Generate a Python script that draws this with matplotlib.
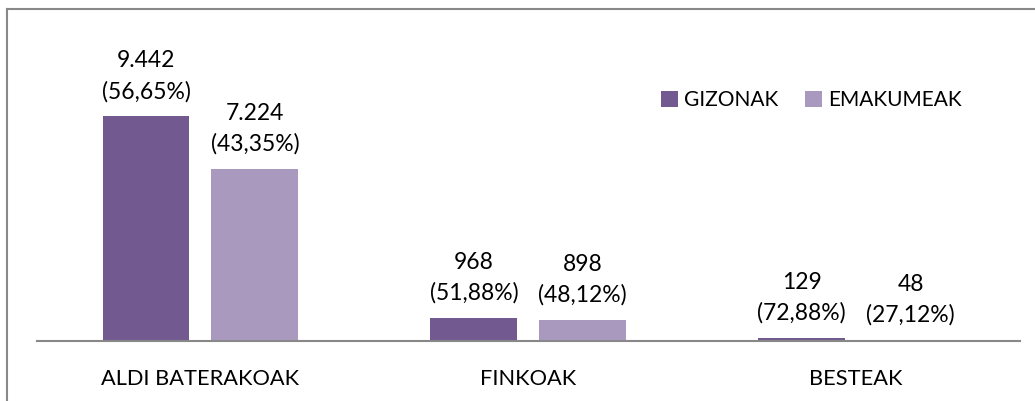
import matplotlib
matplotlib.use("Agg")
import matplotlib.pyplot as plt
from matplotlib.lines import Line2D
import numpy as np

plt.rcParams['font.family'] = ['Lato', 'DejaVu Sans']

categories = ['ALDI BATERAKOAK', 'FINKOAK', 'BESTEAK']
series_names = ['GIZONAK', 'EMAKUMEAK']
gizonak = [9442, 968, 129]
emakumeak = [7224, 898, 48]
gizonak_labels = ['9.442\n(56,65%)', '968\n(51,88%)', '129\n(72,88%)']
emakumeak_labels = ['7.224\n(43,35%)', '898\n(48,12%)', '48\n(27,12%)']

c_dark = '#72598F'
c_light = '#AA99BF'

fig = plt.figure(figsize=(10.35, 4.01), dpi=100)
ax = fig.add_axes([36.5 / 1035, 60 / 401, 983.5 / 1035, 321 / 401])

x = np.arange(len(categories))
w = 0.265
off = 0.166
b1 = ax.bar(x - off, gizonak, w, color=c_dark, label=series_names[0])
b2 = ax.bar(x + off, emakumeak, w, color=c_light, label=series_names[1])

for bars, labels in ((b1, gizonak_labels), (b2, emakumeak_labels)):
    for rect, lab in zip(bars, labels):
        ax.annotate(lab, (rect.get_x() + rect.get_width() / 2, rect.get_height()),
                    xytext=(0, 10), textcoords='offset points',
                    ha='center', va='bottom', fontsize=16.5, linespacing=1.55)

ax.set_xlim(-0.5, 2.5)
ax.set_ylim(0, 13470)
ax.set_yticks([])
ax.set_xticks(x)
ax.set_xticklabels(categories, fontsize=15.7)
ax.tick_params(axis='x', length=0, pad=20)
for s in ('top', 'right', 'left'):
    ax.spines[s].set_visible(False)
ax.spines['bottom'].set_color('#888888')
ax.spines['bottom'].set_linewidth(1.5)

leg = ax.legend(loc='upper left', bbox_to_anchor=(661 / 1035, 1 - 90 / 401),
                bbox_transform=fig.transFigure, ncol=2, frameon=False,
                fontsize=15, handlelength=0.8, handleheight=0.8,
                handletextpad=0.3, columnspacing=1.3, borderpad=0, borderaxespad=0)

# outer chart border (only top and left show in the crop)
fig.add_artist(Line2D([7 / 1035, 7 / 1035], [0, 1 - 9 / 401], transform=fig.transFigure,
                      color='#888888', lw=1.5))
fig.add_artist(Line2D([7 / 1035, 1], [1 - 9 / 401, 1 - 9 / 401], transform=fig.transFigure,
                      color='#888888', lw=1.5))

fig.savefig('out.png', dpi=100)
